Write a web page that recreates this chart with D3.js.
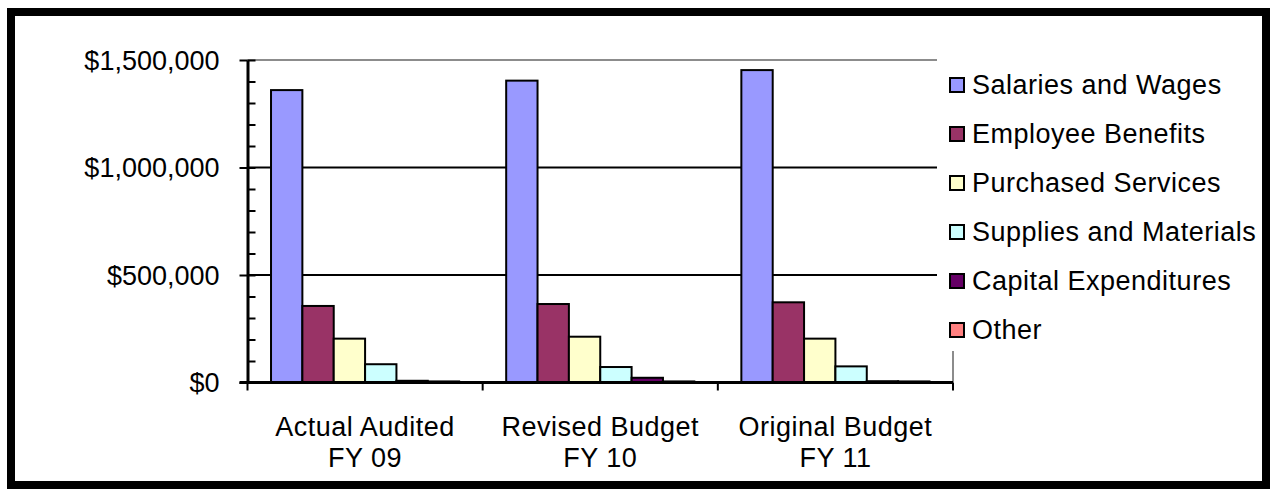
<!DOCTYPE html>
<html>
<head>
<meta charset="utf-8">
<script src="https://cdn.jsdelivr.net/npm/d3@7"></script>
<style>
    body { margin: 0; background: #fff; }
    svg text { font-family: "Liberation Sans", Arial, sans-serif; fill: #000; }
</style>
</head>
<body>
<svg id="chart" width="1270" height="489"></svg>
<script>
var categories = ["Actual Audited\nFY 09", "Revised Budget\nFY 10", "Original Budget\nFY 11"];
var seriesNames = ["Salaries and Wages", "Employee Benefits", "Purchased Services",
    "Supplies and Materials", "Capital Expenditures", "Other"];
var seriesColors = ["#9999ff", "#993366", "#ffffcc", "#ccffff", "#660066", "#ff8080"];

var salaries = [1360000, 1404000, 1453000];
var benefits = [356000, 365000, 373000];
var purchased = [204000, 213000, 204000];
var supplies = [85000, 72000, 75000];
var capital = [8000, 22000, 6000];
var other = [5000, 5000, 5000];

var yTicks = [0, 500000, 1000000, 1500000];

var seriesValues = [salaries, benefits, purchased, supplies, capital, other];

var svg = d3.select("#chart");

// outer frame
svg.append("rect")
    .attr("x", 11).attr("y", 12)
    .attr("width", 1255).attr("height", 473)
    .attr("fill", "#fff")
    .attr("stroke", "#000")
    .attr("stroke-width", 8);

var plotLeft = 247.5, plotRight = 953, plotTop = 60, plotBottom = 382.5;

var y = d3.scaleLinear().domain([0, 1500000]).range([plotBottom, plotTop]);
var x = d3.scaleBand().domain(categories).range([plotLeft, plotRight]).padding(0);
var xs = d3.scaleBand().domain(seriesNames).range([0, x.bandwidth()])
    .paddingInner(0).paddingOuter(0.75);

// gridlines
svg.append("g")
    .selectAll("line")
    .data(yTicks.filter(d => d > 0 && d < 1500000))
    .enter().append("line")
    .attr("x1", plotLeft).attr("x2", plotRight)
    .attr("y1", d => y(d)).attr("y2", d => y(d))
    .attr("stroke", "#000").attr("stroke-width", 2);

// plot area border (top and right, gray)
svg.append("path")
    .attr("d", "M" + plotLeft + "," + y(1500000) + "H" + plotRight + "V" + plotBottom)
    .attr("fill", "none")
    .attr("stroke", "#8c8c8c")
    .attr("stroke-width", 2);

// bars
var rows = [];
categories.forEach(function(c, i) {
    seriesNames.forEach(function(s, j) {
        rows.push({cat: c, name: s, value: seriesValues[j][i], color: seriesColors[j]});
    });
});

svg.append("g")
    .selectAll("rect")
    .data(rows)
    .enter().append("rect")
    .attr("x", d => x(d.cat) + xs(d.name))
    .attr("width", xs.bandwidth())
    .attr("y", d => y(d.value))
    .attr("height", d => plotBottom - y(d.value))
    .attr("fill", d => d.color)
    .attr("stroke", "#000")
    .attr("stroke-width", 2);

// y axis
var minorTicks = d3.range(0, 1500001, 100000);

var yInner = svg.append("g")
    .attr("transform", "translate(" + plotLeft + ",0)")
    .call(d3.axisRight(y).tickValues(minorTicks).tickSize(8).tickFormat(""));
yInner.select(".domain").remove();
yInner.selectAll("line").attr("stroke", "#000").attr("stroke-width", 2);

var yAxis = svg.append("g")
    .attr("transform", "translate(" + plotLeft + ",0)")
    .call(d3.axisLeft(y).tickValues(yTicks).tickSize(8).tickSizeOuter(0)
        .tickPadding(20).tickFormat(d3.format("$,")));
yAxis.select(".domain").attr("stroke", "#000").attr("stroke-width", 3);
yAxis.selectAll("line").attr("stroke", "#000").attr("stroke-width", 2);
yAxis.selectAll("text")
    .style("font-size", "27px")
    .attr("dy", "0.35em");

// x axis
svg.append("line")
    .attr("x1", plotLeft - 8).attr("x2", plotRight)
    .attr("y1", plotBottom).attr("y2", plotBottom)
    .attr("stroke", "#000").attr("stroke-width", 3);

var boundaries = categories.map(c => x(c)).concat([plotRight]);
svg.append("g")
    .selectAll("line")
    .data(boundaries)
    .enter().append("line")
    .attr("x1", d => d).attr("x2", d => d)
    .attr("y1", plotBottom).attr("y2", plotBottom + 8)
    .attr("stroke", "#000").attr("stroke-width", 2);

var labels = svg.append("g")
    .selectAll("text")
    .data(categories)
    .enter().append("text")
    .attr("text-anchor", "middle")
    .style("font-size", "27px")
    .style("letter-spacing", "0.5px");

labels.each(function(c) {
    var lines = c.split("\n");
    d3.select(this).selectAll("tspan")
        .data(lines)
        .enter().append("tspan")
        .attr("x", x(c) + x.bandwidth() / 2)
        .attr("y", (d, i) => 436 + i * 31)
        .text(d => d);
});

// legend
var legend = svg.append("g");
legend.append("rect")
    .attr("x", 937).attr("y", 48)
    .attr("width", 322).attr("height", 303)
    .attr("fill", "#fff");

var item = legend.selectAll(".item")
    .data(seriesNames)
    .enter().append("g")
    .attr("class", "item")
    .attr("transform", (d, i) => "translate(949," + (85 + i * 49) + ")");

item.append("rect")
    .attr("x", 1).attr("y", -7)
    .attr("width", 14).attr("height", 14)
    .attr("fill", (d, i) => seriesColors[i])
    .attr("stroke", "#000")
    .attr("stroke-width", 2);

item.append("text")
    .attr("x", 23)
    .attr("dy", "0.35em")
    .style("font-size", "27px")
    .style("letter-spacing", "0.5px")
    .text(d => d);
</script>
</body>
</html>
